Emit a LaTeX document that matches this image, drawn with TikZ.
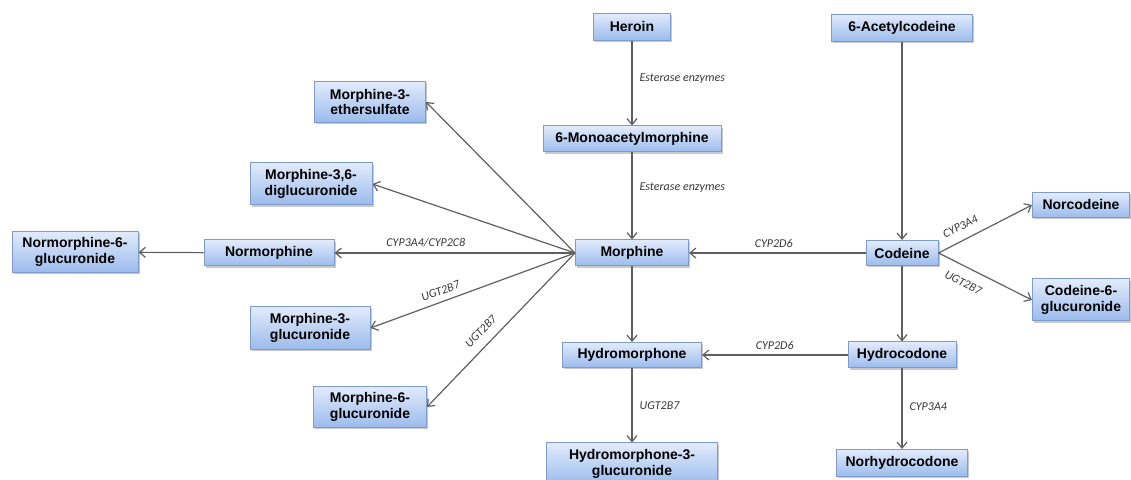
\documentclass[tikz,border=0pt]{standalone}
\usepackage{fontspec}
\setsansfont{Liberation Sans}
\newfontfamily\labfont{Carlito}
\usetikzlibrary{arrows.meta,shadows}
\definecolor{boxtop}{RGB}{226,235,252}
\definecolor{boxbot}{RGB}{155,187,236}
\definecolor{boxborder}{RGB}{125,155,205}
\definecolor{linecol}{RGB}{95,95,95}
\definecolor{labcol}{RGB}{55,55,55}
\tikzset{
  box/.style={draw=boxborder, line width=0.5pt, top color=boxtop, bottom color=boxbot,
    drop shadow={shadow xshift=0.8pt, shadow yshift=-0.8pt, opacity=0.3, fill=black!70},
    font=\fontsize{7}{7.6}\selectfont\sffamily\bfseries, align=center, inner sep=0pt},
  conn/.style={draw=linecol, line width=0.6pt, -{Straight Barb[length=3pt,width=5pt]}},
  lab/.style={font=\fontsize{6}{7}\selectfont\labfont\itshape, text=labcol, inner sep=1.5pt}
}
\begin{document}
\begin{tikzpicture}[x=0.5pt,y=-0.5pt]
\useasboundingbox (0,0) rectangle (1131,480);
% nodes
\node[box, minimum width=38.5pt, minimum height=13.5pt] (heroin) at (632,27) {Heroin};
\node[box, minimum width=70.5pt, minimum height=13.5pt] (acod) at (902,28) {6-Acetylcodeine};
\node[box, minimum width=89pt, minimum height=13pt] (mam) at (632,139) {6-Monoacetylmorphine};
\node[box, minimum width=55.5pt, minimum height=20.5pt] (ether) at (370,102) {Morphine-3-\\ethersulfate};
\node[box, minimum width=61pt, minimum height=21pt] (diglu) at (311,184) {Morphine-3,6-\\diglucuronide};
\node[box, minimum width=63pt, minimum height=20.5pt] (n6g) at (75,252) {Normorphine-6-\\glucuronide};
\node[box, minimum width=65pt, minimum height=13pt] (normor) at (269,253) {Normorphine};
\node[box, minimum width=56.5pt, minimum height=13pt] (morph) at (632,253) {Morphine};
\node[box, minimum width=36pt, minimum height=12.5pt] (codeine) at (902,253) {Codeine};
\node[box, minimum width=48.5pt, minimum height=12.5pt] (norcod) at (1081,205) {Norcodeine};
\node[box, minimum width=48.5pt, minimum height=21pt] (c6g) at (1081,300) {Codeine-6-\\glucuronide};
\node[box, minimum width=60pt, minimum height=21.5pt] (m3g) at (310,328) {Morphine-3-\\glucuronide};
\node[box, minimum width=56.5pt, minimum height=20.5pt] (m6g) at (370,407) {Morphine-6-\\glucuronide};
\node[box, minimum width=69.5pt, minimum height=12.5pt] (hydromor) at (632,355) {Hydromorphone};
\node[box, minimum width=54pt, minimum height=13pt] (hydrocod) at (902,355) {Hydrocodone};
\node[box, minimum width=85.5pt, minimum height=21pt] (h3g) at (632,464) {Hydromorphone-3-\\glucuronide};
\node[box, minimum width=65.5pt, minimum height=13.5pt] (norhydro) at (902,463) {Norhydrocodone};
% connectors
\draw[conn] (heroin) -- node[lab, right, pos=0.45, xshift=2pt] (l1) {Esterase enzymes} (mam);
\draw[conn] (mam) -- node[lab, right, pos=0.4, xshift=2pt] (l2) {Esterase enzymes} (morph);
\draw[conn] (acod) -- (codeine);
\draw[conn] (codeine) -- node[lab, above, pos=0.52, yshift=1pt] (l3) {CYP2D6} (morph);
\draw[conn] (morph) -- node[lab, above, pos=0.62, yshift=1pt] (l4) {CYP3A4/CYP2C8} (normor);
\draw[conn] (normor) -- (n6g);
\draw[conn] (morph.west) -- (ether.east);
\draw[conn] (morph.west) -- (diglu.east);
\draw[conn] (morph.west) -- node[lab, sloped, above=1.5pt, pos=0.64] (l5) {UGT2B7} (m3g.east);
\draw[conn] (morph.west) -- node[lab, sloped, above=3pt, pos=0.57] (l6) {UGT2B7} (m6g.east);
\draw[conn] (morph) -- (hydromor);
\draw[conn] (codeine) -- (hydrocod);
\draw[conn] (codeine.east) -- node[lab, sloped, above=3pt, pos=0.3] (l7) {CYP3A4} (norcod.west);
\draw[conn] (codeine.east) -- node[lab, sloped, below=4pt, pos=0.34] (l8) {UGT2B7} (c6g.west);
\draw[conn] (hydrocod) -- node[lab, above, pos=0.5, yshift=1pt] (l9) {CYP2D6} (hydromor);
\draw[conn] (hydromor) -- node[lab, right, pos=0.5, xshift=2pt] (l10) {UGT2B7} (h3g);
\draw[conn] (hydrocod) -- node[lab, right, pos=0.48, xshift=2pt] (l11) {CYP3A4} (norhydro);
\end{tikzpicture}
\end{document}
